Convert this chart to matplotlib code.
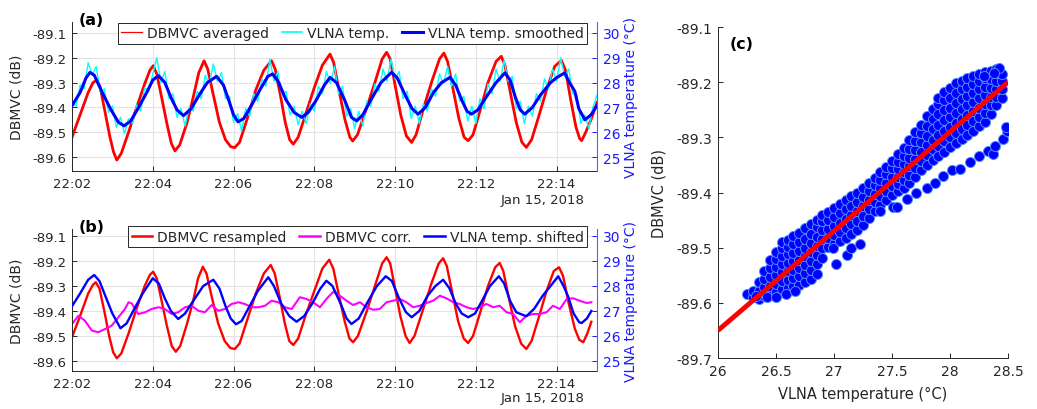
import numpy as np
import matplotlib
matplotlib.use("Agg")
import matplotlib.pyplot as plt
import matplotlib.dates as mdates
from matplotlib.lines import Line2D

plt.rcParams['font.family'] = ['DejaVu Sans']
plt.rcParams['axes.unicode_minus'] = False

# ---------------- data (minutes after 22:02, Jan 15 2018) ----------------
# (a) DBMVC averaged (dB)
red_a_t = [0.0, 0.2, 0.4, 0.52, 0.61, 0.70, 0.82, 0.94, 1.03, 1.11, 1.22, 1.4, 1.6, 1.8, 1.93, 2.01,
           2.1, 2.22, 2.35, 2.46, 2.55, 2.67, 2.85, 3.0, 3.14, 3.27, 3.36, 3.5, 3.65, 3.8, 3.93, 4.03,
           4.15, 4.35, 4.55, 4.75, 4.94, 5.03, 5.16, 5.28, 5.39, 5.48, 5.6, 5.8, 6.0, 6.2, 6.39, 6.48,
           6.61, 6.76, 6.88, 6.95, 7.07, 7.3, 7.5, 7.68, 7.79, 7.88, 8.0, 8.14, 8.28, 8.41, 8.52, 8.72,
           8.92, 9.1, 9.21, 9.3, 9.44, 9.58, 9.71, 9.81, 9.93, 10.1, 10.3, 10.5, 10.63, 10.72, 10.86,
           11.0, 11.14, 11.25, 11.38, 11.55, 11.75, 11.95, 12.12, 12.22, 12.35, 12.48, 12.57, 12.62,
           12.72, 12.85, 13.0]
red_a_db = [-89.52, -89.43, -89.34, -89.30, -89.29, -89.32, -89.42, -89.52, -89.58, -89.612, -89.585,
            -89.50, -89.40, -89.305, -89.25, -89.232, -89.265, -89.36, -89.465, -89.545, -89.575,
            -89.55, -89.46, -89.36, -89.26, -89.212, -89.245, -89.35, -89.46, -89.53, -89.558, -89.562,
            -89.54, -89.44, -89.33, -89.25, -89.212, -89.245, -89.35, -89.46, -89.53, -89.548, -89.52,
            -89.42, -89.32, -89.23, -89.185, -89.22, -89.33, -89.45, -89.52, -89.535, -89.51, -89.40,
            -89.30, -89.205, -89.178, -89.205, -89.31, -89.43, -89.515, -89.541, -89.51, -89.395,
            -89.29, -89.205, -89.181, -89.215, -89.33, -89.445, -89.52, -89.534, -89.51, -89.415,
            -89.30, -89.215, -89.194, -89.23, -89.345, -89.46, -89.54, -89.561, -89.53, -89.44, -89.33,
            -89.235, -89.211, -89.25, -89.37, -89.48, -89.525, -89.534, -89.50, -89.45, -89.38]

# (a) VLNA temp. (raw, degC), every 0.1 min
cyan_t = [round(0.1 * i, 1) for i in range(131)]
cyan_T = [27.2, 27.05, 27.9, 27.75, 28.8, 28.3, 28.65, 27.6, 27.75, 26.8,
          27.05, 26.2, 26.6, 25.95, 26.55, 26.35, 27.1, 26.85, 27.8, 27.65,
          28.35, 29.0, 28.0, 28.45, 27.35, 27.55, 26.6, 26.95, 26.25, 27.0,
          26.85, 27.65, 27.35, 28.3, 27.95, 28.75, 28.05, 28.4, 27.35, 27.45,
          26.4, 26.75, 26.05, 26.95, 26.65, 27.55, 27.25, 28.15, 27.85, 28.95,
          28.05, 28.45, 27.45, 27.65, 26.7, 27.05, 26.3, 26.85, 26.35, 27.15,
          26.85, 27.85, 27.55, 28.45, 27.95, 28.65, 27.55, 27.85, 26.65, 26.95,
          26.15, 26.85, 26.25, 27.25, 27.05, 27.95, 27.65, 28.55, 28.05, 28.95,
          28.15, 28.45, 27.35, 27.65, 26.55, 27.05, 26.35, 27.15, 26.85, 27.75,
          27.45, 28.35, 27.95, 28.65, 27.85, 28.35, 27.25, 27.45, 26.45, 27.05,
          26.35, 27.35, 26.95, 27.95, 27.55, 28.55, 28.05, 28.9, 28.05, 28.25,
          26.95, 27.25, 26.35, 27.05, 26.65, 27.55, 27.25, 28.15, 27.75, 28.55,
          28.05, 29.0, 28.25, 28.55, 27.55, 27.5, 26.35, 26.7, 26.15, 27.0,
          27.5]

# (a) VLNA temp. smoothed (degC)
blue_a_t = [0.0, 0.2, 0.35, 0.445, 0.55, 0.75, 0.95, 1.15, 1.29, 1.45, 1.65, 1.85, 2.0, 2.14, 2.3,
            2.45, 2.6, 2.76, 2.95, 3.15, 3.35, 3.58, 3.75, 3.9, 4.0, 4.11, 4.25, 4.45, 4.65, 4.85,
            4.97, 5.12, 5.3, 5.5, 5.69, 5.85, 6.05, 6.25, 6.39, 6.55, 6.75, 6.92, 7.05, 7.2, 7.4,
            7.65, 7.91, 8.05, 8.25, 8.42, 8.57, 8.75, 8.95, 9.15, 9.36, 9.5, 9.65, 9.78, 9.89, 10.05,
            10.25, 10.5, 10.72, 10.85, 10.98, 11.1, 11.21, 11.4, 11.6, 11.85, 12.0, 12.2, 12.32,
            12.45, 12.55, 12.7, 12.85, 13.0]
blue_a_T = [27.07, 27.6, 28.2, 28.41, 28.3, 27.6, 26.95, 26.4, 26.26, 26.45, 27.0, 27.6, 28.1, 28.28,
            28.0, 27.4, 26.9, 26.67, 26.95, 27.5, 28.0, 28.25, 27.9, 27.2, 26.7, 26.42, 26.55, 27.1,
            27.7, 28.25, 28.35, 28.0, 27.3, 26.8, 26.6, 26.8, 27.3, 27.9, 28.21, 28.0, 27.3, 26.6,
            26.46, 26.7, 27.3, 28.0, 28.41, 28.2, 27.5, 26.95, 26.73, 27.0, 27.6, 28.0, 28.21, 27.9,
            27.3, 26.85, 26.73, 26.9, 27.4, 28.0, 28.39, 28.1, 27.4, 26.9, 26.73, 27.0, 27.5, 28.0,
            28.2, 28.39, 28.0, 27.65, 26.95, 26.5, 26.7, 27.07]

# (b) DBMVC resampled (dB)
red_b_t = [0.0, 0.2, 0.4, 0.52, 0.59, 0.68, 0.8, 0.92, 1.02, 1.11, 1.22, 1.4, 1.6, 1.8, 1.93, 2.01,
           2.1, 2.22, 2.35, 2.47, 2.57, 2.68, 2.85, 3.0, 3.12, 3.24, 3.33, 3.47, 3.62, 3.78, 3.92,
           4.03, 4.15, 4.35, 4.55, 4.75, 4.92, 5.02, 5.15, 5.27, 5.38, 5.48, 5.6, 5.8, 6.0, 6.2,
           6.37, 6.47, 6.6, 6.75, 6.87, 6.96, 7.08, 7.3, 7.5, 7.68, 7.79, 7.88, 8.0, 8.13, 8.26,
           8.36, 8.48, 8.7, 8.9, 9.08, 9.19, 9.28, 9.42, 9.56, 9.7, 9.81, 9.93, 10.1, 10.3, 10.48,
           10.59, 10.68, 10.82, 10.97, 11.12, 11.25, 11.38, 11.55, 11.75, 11.93, 12.06, 12.16,
           12.3, 12.45, 12.56, 12.66, 12.76, 12.86]
red_b_db = [-89.505, -89.42, -89.33, -89.295, -89.285, -89.31, -89.40, -89.50, -89.565, -89.589,
            -89.57, -89.49, -89.39, -89.30, -89.255, -89.243, -89.27, -89.36, -89.46, -89.54,
            -89.563, -89.54, -89.45, -89.36, -89.27, -89.223, -89.25, -89.35, -89.45, -89.52,
            -89.548, -89.552, -89.53, -89.43, -89.33, -89.25, -89.216, -89.25, -89.35, -89.45,
            -89.52, -89.536, -89.51, -89.41, -89.32, -89.23, -89.195, -89.23, -89.33, -89.44,
            -89.51, -89.525, -89.50, -89.40, -89.30, -89.21, -89.185, -89.21, -89.31, -89.42,
            -89.50, -89.528, -89.50, -89.39, -89.29, -89.21, -89.189, -89.22, -89.33, -89.44,
            -89.51, -89.528, -89.50, -89.41, -89.30, -89.225, -89.208, -89.24, -89.35, -89.46,
            -89.53, -89.552, -89.52, -89.43, -89.32, -89.24, -89.225, -89.26, -89.37, -89.47,
            -89.515, -89.525, -89.49, -89.443]

# (b) DBMVC corr. (dB)
mag_t = [0.0, 0.16, 0.32, 0.49, 0.65, 0.82, 0.98, 1.15, 1.31, 1.40, 1.48, 1.64, 1.81, 1.97, 2.14,
         2.30, 2.47, 2.63, 2.80, 2.96, 3.13, 3.29, 3.46, 3.62, 3.79, 3.95, 4.12, 4.28, 4.45, 4.61,
         4.78, 4.94, 5.11, 5.27, 5.44, 5.64, 5.81, 5.97, 6.14, 6.30, 6.47, 6.63, 6.80, 6.96, 7.13,
         7.29, 7.46, 7.62, 7.79, 7.95, 8.12, 8.28, 8.45, 8.61, 8.78, 8.94, 9.11, 9.27, 9.44, 9.60,
         9.77, 9.93, 10.10, 10.26, 10.43, 10.59, 10.76, 10.92, 11.09, 11.25, 11.42, 11.58, 11.75,
         11.91, 12.08, 12.25, 12.41, 12.57, 12.74, 12.86]
mag_db = [-89.452, -89.419, -89.439, -89.478, -89.485, -89.472, -89.459, -89.425, -89.392, -89.365,
          -89.37, -89.412, -89.405, -89.392, -89.385, -89.392, -89.412, -89.405, -89.385, -89.379,
          -89.399, -89.405, -89.376, -89.399, -89.392, -89.372, -89.365, -89.372, -89.385, -89.385,
          -89.379, -89.359, -89.365, -89.385, -89.392, -89.345, -89.352, -89.365, -89.385, -89.352,
          -89.323, -89.339, -89.359, -89.376, -89.365, -89.385, -89.395, -89.392, -89.365, -89.359,
          -89.352, -89.365, -89.385, -89.379, -89.368, -89.359, -89.339, -89.349, -89.365, -89.372,
          -89.385, -89.392, -89.385, -89.372, -89.385, -89.379, -89.405, -89.412, -89.445, -89.419,
          -89.412, -89.412, -89.405, -89.379, -89.392, -89.352, -89.349, -89.359, -89.368, -89.365]

# (b) VLNA temp. shifted (degC)
blue_b_t = [0.0, 0.2, 0.4, 0.55, 0.68, 0.85, 1.0, 1.2, 1.35, 1.55, 1.75, 2.0, 2.15, 2.3, 2.45, 2.63,
            2.8, 3.0, 3.25, 3.5, 3.65, 3.8, 3.93, 4.06, 4.2, 4.4, 4.6, 4.86, 5.0, 5.18, 5.38, 5.56,
            5.75, 5.95, 6.15, 6.3, 6.45, 6.65, 6.8, 6.92, 7.1, 7.3, 7.55, 7.77, 7.92, 8.1, 8.27, 8.41,
            8.6, 8.8, 9.0, 9.19, 9.35, 9.5, 9.65, 9.81, 9.98, 10.15, 10.35, 10.57, 10.7, 10.85, 11.0,
            11.25, 11.45, 11.65, 11.85, 12.04, 12.17, 12.28, 12.42, 12.56, 12.62, 12.75, 12.86]
blue_b_T = [27.19, 27.7, 28.25, 28.44, 28.2, 27.5, 26.9, 26.31, 26.5, 27.1, 27.7, 28.31, 28.1, 27.5,
            27.0, 26.68, 26.9, 27.4, 28.0, 28.25, 27.9, 27.2, 26.7, 26.47, 26.6, 27.2, 27.8, 28.35,
            28.0, 27.3, 26.8, 26.57, 26.8, 27.3, 27.9, 28.21, 28.0, 27.3, 26.7, 26.48, 26.7, 27.3,
            28.0, 28.39, 28.2, 27.5, 26.95, 26.75, 27.0, 27.6, 28.0, 28.25, 27.9, 27.3, 26.9, 26.75,
            26.9, 27.4, 28.0, 28.39, 28.1, 27.4, 26.95, 26.79, 27.1, 27.6, 28.0, 28.39, 28.0, 27.6,
            26.9, 26.55, 26.52, 26.7, 27.0]

# (c) scatter: VLNA temperature column -> DBMVC values
scatter_cols = [
    (26.25, [-89.584]),
    (26.30, [-89.59, -89.578]),
    (26.35, [-89.593, -89.578, -89.562]),
    (26.40, [-89.588, -89.572, -89.556, -89.542]),
    (26.45, [-89.585, -89.57, -89.553, -89.537, -89.522]),
    (26.50, [-89.58, -89.565, -89.55, -89.535, -89.52, -89.507]),
    (26.55, [-89.575, -89.56, -89.545, -89.53, -89.515, -89.50, -89.49]),
    (26.60, [-89.573, -89.558, -89.543, -89.527, -89.512, -89.498, -89.486]),
    (26.65, [-89.57, -89.555, -89.54, -89.525, -89.51, -89.494, -89.479]),
    (26.70, [-89.568, -89.552, -89.537, -89.522, -89.506, -89.49, -89.473]),
    (26.75, [-89.562, -89.546, -89.531, -89.515, -89.50, -89.485, -89.465]),
    (26.80, [-89.556, -89.54, -89.524, -89.508, -89.492, -89.476, -89.458]),
    (26.85, [-89.548, -89.53, -89.513, -89.497, -89.48, -89.463, -89.449]),
    (26.90, [-89.518, -89.50, -89.484, -89.468, -89.452, -89.441]),
    (26.95, [-89.498, -89.482, -89.466, -89.45, -89.436]),
    (27.00, [-89.493, -89.477, -89.46, -89.444, -89.429]),
    (27.05, [-89.488, -89.472, -89.455, -89.438, -89.42]),
    (27.10, [-89.482, -89.465, -89.448, -89.43, -89.414]),
    (27.15, [-89.476, -89.458, -89.441, -89.424, -89.407]),
    (27.20, [-89.468, -89.451, -89.434, -89.417, -89.401]),
    (27.25, [-89.459, -89.442, -89.425, -89.408, -89.392]),
    (27.30, [-89.447, -89.43, -89.413, -89.397, -89.383]),
    (27.35, [-89.434, -89.418, -89.402, -89.387, -89.373]),
    (27.40, [-89.423, -89.407, -89.392, -89.377, -89.363]),
    (27.45, [-89.414, -89.398, -89.382, -89.366, -89.353]),
    (27.50, [-89.404, -89.388, -89.372, -89.356, -89.342]),
    (27.55, [-89.398, -89.385, -89.372, -89.358, -89.345, -89.331]),
    (27.60, [-89.391, -89.377, -89.363, -89.348, -89.334, -89.319]),
    (27.65, [-89.383, -89.368, -89.352, -89.337, -89.321, -89.305]),
    (27.70, [-89.371, -89.355, -89.339, -89.323, -89.307, -89.291]),
    (27.75, [-89.36, -89.343, -89.326, -89.309, -89.293, -89.277]),
    (27.80, [-89.35, -89.332, -89.314, -89.297, -89.279, -89.262]),
    (27.85, [-89.341, -89.322, -89.304, -89.285, -89.266, -89.248]),
    (27.90, [-89.334, -89.315, -89.296, -89.277, -89.258, -89.24, -89.228]),
    (27.95, [-89.326, -89.307, -89.288, -89.269, -89.25, -89.232, -89.217]),
    (28.00, [-89.318, -89.30, -89.282, -89.264, -89.246, -89.228, -89.21]),
    (28.05, [-89.31, -89.292, -89.274, -89.256, -89.238, -89.22, -89.202]),
    (28.10, [-89.303, -89.285, -89.267, -89.249, -89.231, -89.213, -89.197]),
    (28.15, [-89.295, -89.277, -89.259, -89.242, -89.225, -89.208, -89.192]),
    (28.20, [-89.288, -89.27, -89.253, -89.236, -89.219, -89.203, -89.188]),
    (28.25, [-89.28, -89.263, -89.246, -89.229, -89.213, -89.198, -89.185]),
    (28.30, [-89.273, -89.256, -89.24, -89.224, -89.208, -89.193, -89.181]),
    (28.35, [-89.258, -89.242, -89.226, -89.21, -89.194, -89.18]),
    (28.40, [-89.242, -89.227, -89.212, -89.197, -89.184, -89.176]),
    (28.45, [-89.228, -89.213, -89.198, -89.186]),
]
# (c) scatter: points off the main band
stray_T = [27.40, 27.51, 27.54, 27.63, 27.71, 27.80, 27.87, 27.94, 28.02, 28.09, 28.17, 28.25, 28.33,
           28.37, 28.39, 28.46, 28.49, 28.48, 27.02, 27.11, 27.15, 27.22, 26.99, 26.33, 26.42,
           26.50, 26.59, 26.66, 28.42, 28.38, 28.29]
stray_db = [-89.433, -89.427, -89.427, -89.412, -89.40, -89.391, -89.382, -89.37, -89.36, -89.357,
            -89.345, -89.333, -89.324, -89.33, -89.315, -89.303, -89.288, -89.282, -89.529, -89.514,
            -89.50, -89.493, -89.50, -89.587, -89.59, -89.59, -89.584, -89.578, -89.174, -89.183,
            -89.189]

# (c) linear fit endpoints
fit_T = [26.0, 28.5]
fit_db = [-89.65, -89.20]

# ---------------- helpers ----------------
BASE = np.datetime64('2018-01-15T22:02:00')


def to_dt(mins):
    return BASE + (np.asarray(mins, dtype=float) * 60000).round().astype('timedelta64[ms]')


DARK = '#262626'
BLUE_TXT = '#1a1aff'
FS = 9.5

fig = plt.figure(figsize=(10.37, 4.1), dpi=100)
W, H = 1037, 410


def box(l, t, r, b):
    return [l / W, 1 - b / H, (r - l) / W, (b - t) / H]


def style_time_axes(ax, ylim, ax_r):
    ax.set_xlim(np.datetime64('2018-01-15T22:02'), np.datetime64('2018-01-15T22:15'))
    ax.set_ylim(*ylim)
    ax.set_yticks([-89.6, -89.5, -89.4, -89.3, -89.2, -89.1])
    ax.set_yticklabels(['-89.6', '-89.5', '-89.4', '-89.3', '-89.2', '-89.1'])
    ax.xaxis.set_major_locator(mdates.MinuteLocator(byminute=range(0, 60, 2)))
    ax.xaxis.set_major_formatter(mdates.DateFormatter('%H:%M'))
    ax.grid(True, color='#e3e3e3', linewidth=0.8)
    ax.set_axisbelow(True)
    ax.tick_params(direction='in', length=3.5, width=0.7, colors=DARK, labelsize=FS, pad=4)
    for s in ['top', 'right']:
        ax.spines[s].set_visible(False)
    for s in ['left', 'bottom']:
        ax.spines[s].set_color(DARK)
        ax.spines[s].set_linewidth(0.7)
    ax.set_ylabel('DBMVC (dB)', fontsize=FS + 0.5, color=DARK)
    ax.yaxis.set_label_coords(-0.092, 0.5)
    # right axis: temperature = 30 + 10*(dB + 89.1)
    ax_r.set_ylim(30 + 10 * (ylim[0] + 89.1), 30 + 10 * (ylim[1] + 89.1))
    ax_r.set_yticks([25, 26, 27, 28, 29, 30])
    ax_r.tick_params(axis='y', direction='in', length=3.5, width=0.7, colors=BLUE_TXT,
                     labelsize=FS + 0.5, pad=4)
    for s in ['top', 'left', 'bottom']:
        ax_r.spines[s].set_visible(False)
    ax_r.spines['right'].set_color('#5a5aff')
    ax_r.spines['right'].set_linewidth(0.8)
    ax_r.set_ylabel('VLNA temperature (°C)', fontsize=FS + 0.5, color=BLUE_TXT)
    ax_r.yaxis.set_label_coords(1.052, 0.5)
    ax.text(0.977, -0.19, 'Jan 15, 2018', transform=ax.transAxes, ha='right', va='center',
            fontsize=FS, color=DARK)


# ---------------- panel (a) ----------------
axA = fig.add_axes(box(72, 23, 597, 172))
axA_r = axA.twinx()
axA.plot(to_dt(red_a_t), red_a_db, color='#ff0000', lw=2.0)
axA_r.plot(to_dt(cyan_t), cyan_T, color='#00ffff', lw=1.0)
axA_r.plot(to_dt(blue_a_t), blue_a_T, color='#0000ff', lw=2.2)
style_time_axes(axA, (-89.656, -89.056), axA_r)
axA.text(0.012, 1.02, '(a)', transform=axA.transAxes, fontsize=FS + 2, fontweight='bold',
         ha='left', va='center', color='black')
hA = [Line2D([], [], color='#ff0000', lw=0.9), Line2D([], [], color='#00ffff', lw=1.2),
      Line2D([], [], color='#0000ff', lw=2.2)]
legA = axA_r.legend(hA, ['DBMVC averaged', 'VLNA temp.', 'VLNA temp. smoothed'], ncol=3,
                    loc='upper right', bbox_to_anchor=(0.981, 0.995), borderaxespad=0,
                    fontsize=FS + 0.5, handlelength=1.5, handletextpad=0.35, columnspacing=0.9,
                    borderpad=0.25, fancybox=False, framealpha=1, edgecolor=DARK)
legA.get_frame().set_linewidth(0.7)
for t in legA.get_texts():
    t.set_color(DARK)

# ---------------- panel (b) ----------------
axB = fig.add_axes(box(72, 230, 597, 372))
axB_r = axB.twinx()
axB.plot(to_dt(red_b_t), red_b_db, color='#ff0000', lw=1.7)
axB.plot(to_dt(mag_t), mag_db, color='#ff00ff', lw=1.5)
axB_r.plot(to_dt(blue_b_t), blue_b_T, color='#0000ff', lw=1.7)
style_time_axes(axB, (-89.64, -89.072), axB_r)
axB.text(0.012, 1.02, '(b)', transform=axB.transAxes, fontsize=FS + 2, fontweight='bold',
         ha='left', va='center', color='black')
hB = [Line2D([], [], color='#ff0000', lw=1.8), Line2D([], [], color='#ff00ff', lw=1.8),
      Line2D([], [], color='#0000ff', lw=1.8)]
legB = axB_r.legend(hB, ['DBMVC resampled', 'DBMVC corr.', 'VLNA temp. shifted'], ncol=3,
                    loc='upper right', bbox_to_anchor=(0.981, 1.02), borderaxespad=0,
                    fontsize=FS + 0.5, handlelength=1.5, handletextpad=0.35, columnspacing=0.9,
                    borderpad=0.25, fancybox=False, framealpha=1, edgecolor=DARK)
legB.get_frame().set_linewidth(0.7)
for t in legB.get_texts():
    t.set_color(DARK)

# ---------------- panel (c) ----------------
axC = fig.add_axes(box(718, 28, 1008, 359))
sc_T = [c for c, vals in scatter_cols for _ in vals] + stray_T
sc_db = [v for c, vals in scatter_cols for v in vals] + stray_db
axC.scatter(sc_T, sc_db, s=52, facecolor='#0000ff', edgecolor='#4f8dff', linewidths=0.7, zorder=2)
axC.plot(fit_T, fit_db, color='#ff0000', lw=3.5, zorder=3, solid_capstyle='butt')
axC.set_xlim(26, 28.5)
axC.set_ylim(-89.7, -89.1)
axC.set_xticks([26, 26.5, 27, 27.5, 28, 28.5])
axC.set_xticklabels(['26', '26.5', '27', '27.5', '28', '28.5'])
axC.set_yticks([-89.7, -89.6, -89.5, -89.4, -89.3, -89.2, -89.1])
axC.set_yticklabels(['-89.7', '-89.6', '-89.5', '-89.4', '-89.3', '-89.2', '-89.1'])
axC.tick_params(direction='in', length=3.5, width=0.7, colors=DARK, labelsize=FS + 0.5, pad=4)
for s in ['top', 'right']:
    axC.spines[s].set_visible(False)
for s in ['left', 'bottom']:
    axC.spines[s].set_color(DARK)
    axC.spines[s].set_linewidth(0.7)
axC.set_ylabel('DBMVC (dB)', fontsize=FS + 1, color=DARK)
axC.yaxis.set_label_coords(-0.178, 0.5)
axC.set_xlabel('VLNA temperature (°C)', fontsize=FS + 1, color=DARK)
axC.xaxis.set_label_coords(0.5, -0.085)
axC.text(0.04, 0.949, '(c)', transform=axC.transAxes, fontsize=FS + 2, fontweight='bold',
         ha='left', va='center', color='black')

fig.savefig('out.png', dpi=100)
